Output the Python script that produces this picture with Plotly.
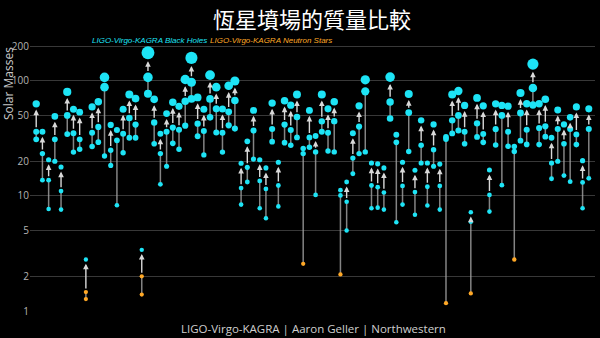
import math
import plotly.graph_objects as go

# Remnant (final) mass and the two component masses of each merger, in solar masses
final_mass = [
    63, 36, 20.6, 49, 17.8, 80, 56.5, 53.4, 2.8, 59.3,
    65.6, 107, 41.3, 37.4, 56.5, 76, 70, 3.4, 175, 69,
    34.7, 51.9, 65, 60, 102.6, 158, 71.6, 56.5, 112, 88,
    56.9, 90.5, 99.6, 19.2, 29.8, 55.3, 20.6, 17.5, 64, 19.6,
    67, 61.4, 76, 25.8, 55.3, 33.1, 76, 57, 65.6, 11.2,
    13.2, 35, 60.6, 102, 19.3, 19, 17.5, 107.6, 34, 19.6,
    76.6, 16.7, 45.3, 19.3, 41.8, 18.9, 32.5, 76, 81.5, 61,
    7.2, 71, 60.6, 16.8, 63, 61, 60.2, 26.9, 78.3, 63.2,
    139.6, 63.2, 69.1, 32, 55.6, 41.8, 48.1, 59.3, 20.2, 57,
]
primary_mass = [
    36, 23.3, 13.7, 31, 11, 50, 35, 31, 1.46, 35.4,
    39.7, 88, 24.9, 30.4, 34.7, 47.5, 41.6, 2.0, 107, 43.4,
    23.3, 36, 39.2, 37.6, 66.5, 97, 42.4, 36.6, 69.6, 57,
    35.4, 53.7, 67.5, 11.7, 17.7, 36.9, 13.5, 11.5, 38.1, 12.3,
    41.6, 37.4, 48.4, 23.3, 32.2, 24.1, 44.4, 35.4, 44.6, 10.1,
    8.9, 21.3, 40, 81, 12.3, 11.9, 10.7, 65.3, 29.2, 12.2,
    52.9, 10.8, 27.5, 12, 25.2, 12.2, 31.2, 45.3, 50, 36,
    5.95, 42.7, 34.5, 10.2, 38, 50, 36, 24.3, 52.5, 37.6,
    86.5, 38.9, 40.2, 19.3, 38.1, 28.4, 38.1, 34.2, 13.1, 38.1,
]
secondary_mass = [
    31, 13.7, 7.7, 20, 7.6, 34.4, 24, 25.4, 1.27, 26.9,
    29.3, 22.2, 18.4, 8.3, 23.7, 32, 32, 1.39, 77, 28.4,
    12.6, 18.1, 28.6, 25.4, 40.7, 69.6, 33, 22.7, 48.1, 35.6,
    24, 41, 38.4, 8.4, 13.2, 20.9, 7.8, 6.4, 29.6, 8.1,
    29, 27.5, 32.2, 2.57, 26.4, 10.2, 36, 24.5, 24.1, 2.08,
    5.0, 15.6, 23.3, 24.1, 7.8, 7.9, 7.6, 47, 5.9, 8.4,
    24.3, 6.85, 19.3, 8.25, 18.1, 7.6, 1.17, 34.9, 37, 28.4,
    1.42, 32.5, 29.2, 7.3, 27.7, 12.4, 27, 2.8, 30.2, 28,
    61.6, 27.9, 32.7, 14.1, 20, 15, 13.3, 27.9, 7.8, 14.2,
]
# Events whose components are neutron stars (0-based event index)
ns_primary_events = [8, 17]
ns_secondary_events = [8, 17, 43, 49, 66, 70, 77]

tick_values = [1, 2, 5, 10, 20, 50, 100, 200]

BH_COLOR = "#1de4f6"
NS_COLOR = "#ffa826"
BG = "#000000"


def dot_size(m):
    return 4.2 + 0.05 * m


n = len(final_mass)
events = list(range(n))

fig = go.Figure()

# faint stem from the lighter component up to the heavier one
stem_x, stem_y = [], []
for i in events:
    stem_x += [i, i, None]
    stem_y += [secondary_mass[i], primary_mass[i], None]
fig.add_trace(go.Scatter(x=stem_x, y=stem_y, mode="lines",
                         line=dict(color="rgba(165,165,165,0.8)", width=1.5),
                         hoverinfo="skip", showlegend=False))

# component and remnant dots
bh_x, bh_y, bh_s = [], [], []
ns_x, ns_y, ns_s = [], [], []
for i in events:
    for m, is_ns in ((secondary_mass[i], i in ns_secondary_events),
                     (primary_mass[i], i in ns_primary_events),
                     (final_mass[i], False)):
        if is_ns:
            ns_x.append(i); ns_y.append(m); ns_s.append(dot_size(m))
        else:
            bh_x.append(i); bh_y.append(m); bh_s.append(dot_size(m))

fig.add_trace(go.Scatter(x=ns_x, y=ns_y, mode="markers",
                         marker=dict(color=NS_COLOR, size=ns_s, opacity=1,
                                     line=dict(width=0)),
                         showlegend=False))
fig.add_trace(go.Scatter(x=bh_x, y=bh_y, mode="markers",
                         marker=dict(color=BH_COLOR, size=bh_s, opacity=1,
                                     line=dict(width=0)),
                         showlegend=False))

# arrows from the heavier component to the remnant
annotations = []
for i in events:
    annotations.append(dict(
        x=i, y=math.log10(final_mass[i]), ax=i, ay=math.log10(primary_mass[i]),
        xref="x", yref="y", axref="x", ayref="y", text="", showarrow=True,
        arrowhead=2, arrowsize=0.8, arrowwidth=1.4, arrowcolor="#d8d8d8",
        standoff=dot_size(final_mass[i]) / 2 + 2,
        startstandoff=dot_size(primary_mass[i]) / 2,
    ))

annotations += [
    dict(text="LIGO-Virgo-KAGRA Black Holes", x=90, y=41, xref="paper", yref="paper",
         showarrow=False, xanchor="left", yanchor="middle",
         font=dict(color=BH_COLOR, size=8, family="Liberation Sans", style="italic")),
    dict(text="LIGO-Virgo-KAGRA Neutron Stars", x=208, y=41, xref="paper", yref="paper",
         showarrow=False, xanchor="left", yanchor="middle",
         font=dict(color=NS_COLOR, size=8, family="Liberation Sans", style="italic")),
    dict(text="Solar Masses", x=9, y=84, xref="paper", yref="paper", textangle=-90,
         showarrow=False, xanchor="center", yanchor="middle",
         font=dict(color="#c8c8c8", size=12, family="Open Sans")),
    dict(text="LIGO-Virgo-KAGRA | Aaron Geller | Northwestern", x=313, y=328,
         xref="paper", yref="paper", showarrow=False, xanchor="center", yanchor="middle",
         font=dict(color="#cfcfcf", size=11.5, family="Open Sans")),
]

# place the text labels in pixel space of the 600x338 page
W, H = 600, 338
L, R, T, B = 30, 5, 37, 27
for a in annotations:
    if a.get("xref") == "paper":
        a["x"] = (a["x"] - L) / (W - L - R)
        a["y"] = (H - B - a["y"]) / (H - T - B)

fig.update_layout(
    width=W, height=H,
    margin=dict(l=L, r=R, t=T, b=B),
    paper_bgcolor=BG, plot_bgcolor=BG,
    title=dict(text="恆星墳場的質量比較", x=0.52, xanchor="center",
               y=1 - 20 / H, yanchor="middle", yref="container",
               font=dict(color="white", size=22, family="Noto Sans CJK TC")),
    annotations=annotations,
    xaxis=dict(range=[-1, n], showgrid=False, zeroline=False, showticklabels=False,
               showline=False, ticks=""),
    yaxis=dict(type="log", range=[0, math.log10(240)], tickvals=tick_values,
               ticktext=[str(v) for v in tick_values], showgrid=True,
               gridcolor="#383838", gridwidth=1, zeroline=False, ticks="",
               tickfont=dict(color="#b4b4b4", size=10, family="Open Sans")),
    showlegend=False,
)

fig.write_html("out.html")
